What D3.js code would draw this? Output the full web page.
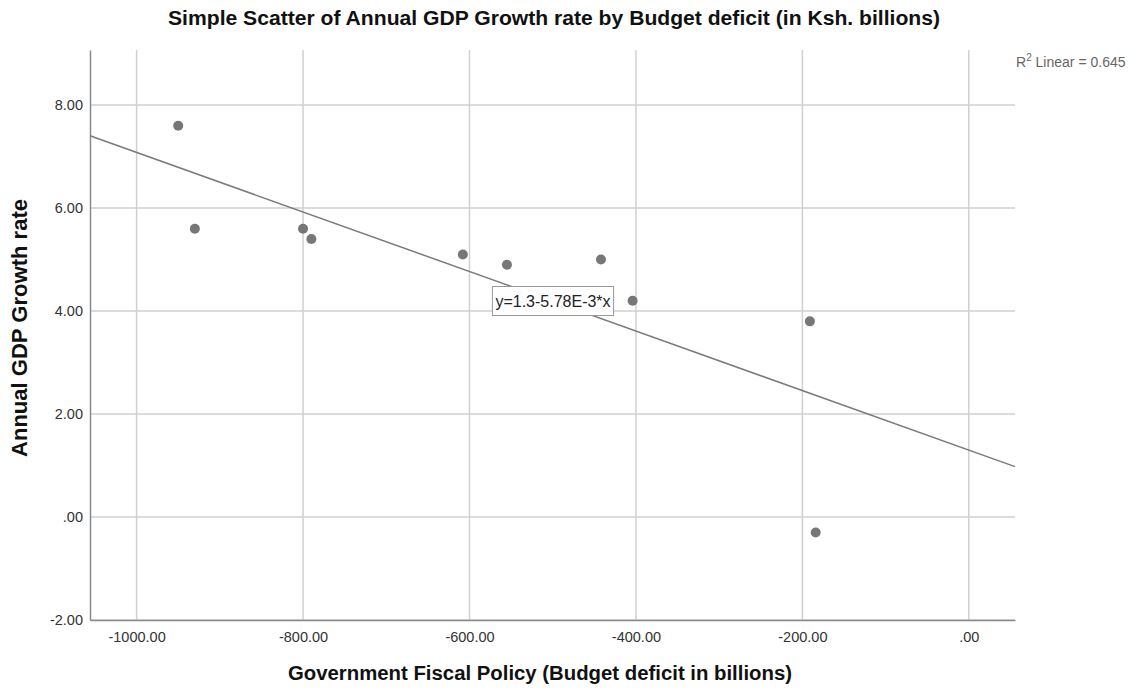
<!DOCTYPE html>
<html>
<head>
<meta charset="utf-8">
<script src="https://cdn.jsdelivr.net/npm/d3@7"></script>
<style>
  body { margin: 0; background: #fff; }
  text { font-family: "Liberation Sans", Arial, sans-serif; }
</style>
</head>
<body>
<div id="chart"></div>
<script>
// data
var budgetDeficit = [-950, -930, -800, -790, -608, -555, -442, -404, -191, -184];
var gdpGrowth     = [7.6, 5.6, 5.6, 5.4, 5.1, 4.9, 5.0, 4.2, 3.8, -0.3];
var xTicks = [-1000, -800, -600, -400, -200, 0];
var yTicks = [-2, 0, 2, 4, 6, 8];
var fitIntercept = 1.3, fitSlope = -5.78e-3;
var rSquared = 0.645;

var margin = {top: 50, right: 128, bottom: 76, left: 90},
    width = 1143 - margin.left - margin.right,
    height = 696 - margin.top - margin.bottom;

var svg = d3.select("#chart")
  .append("svg")
    .attr("width", 1143)
    .attr("height", 696)
  .append("g")
    .attr("transform", "translate(" + margin.left + "," + margin.top + ")");

var x = d3.scaleLinear().domain([-1056, 55.5]).range([0, width]);
var y = d3.scaleLinear().domain([-2, 9.07]).range([height, 0]);

// SPSS style: no leading zero
function fmt(v) {
  var s = d3.format(".2f")(v).replace("−", "-");
  return s.replace(/^0\./, ".").replace(/^-0\./, "-.");
}

// gridlines
svg.append("g").selectAll("line.gx")
  .data(xTicks).enter().append("line")
    .attr("x1", d => x(d)).attr("x2", d => x(d))
    .attr("y1", 0).attr("y2", height)
    .attr("stroke", "#d0d0d0").attr("stroke-width", 1.5);
svg.append("g").selectAll("line.gy")
  .data(yTicks).enter().append("line")
    .attr("x1", 0).attr("x2", width)
    .attr("y1", d => y(d)).attr("y2", d => y(d))
    .attr("stroke", "#d0d0d0").attr("stroke-width", 1.5);

// axes
var xAxis = svg.append("g")
  .attr("transform", "translate(0," + height + ")")
  .call(d3.axisBottom(x).tickValues(xTicks).tickSize(0).tickPadding(12).tickFormat(fmt));
var yAxis = svg.append("g")
  .call(d3.axisLeft(y).tickValues(yTicks).tickSize(0).tickPadding(7).tickFormat(fmt));
[xAxis, yAxis].forEach(a => {
  a.select(".domain").attr("stroke", "#8a8a8a").attr("stroke-width", 1.5);
  a.selectAll("text").style("font-family", "Liberation Sans, Arial, sans-serif")
    .style("font-size", "14.5px").attr("fill", "#333");
});

// fit line
var xd = x.domain();
svg.append("line")
  .attr("x1", x(xd[0])).attr("y1", y(fitIntercept + fitSlope * xd[0]))
  .attr("x2", x(xd[1])).attr("y2", y(fitIntercept + fitSlope * xd[1]))
  .attr("stroke", "#7a7a7a").attr("stroke-width", 1.5);

// points
svg.append("g").selectAll("circle")
  .data(budgetDeficit.map((d, i) => [d, gdpGrowth[i]]))
  .enter().append("circle")
    .attr("cx", d => x(d[0]))
    .attr("cy", d => y(d[1]))
    .attr("r", 5)
    .attr("fill", "#777");

// equation label
var eq = svg.append("g").attr("transform", "translate(" + (553 - margin.left) + "," + (301 - margin.top) + ")");
var eqText = eq.append("text")
  .attr("text-anchor", "middle").attr("dy", "0.35em")
  .style("font-size", "16px").attr("fill", "#222")
  .text("y=1.3-5.78E-3*x");
var bb = eqText.node().getBBox();
eq.insert("rect", "text")
  .attr("x", bb.x - 3).attr("y", -14.5)
  .attr("width", bb.width + 6).attr("height", 29)
  .attr("fill", "#fff").attr("stroke", "#999");

// R squared note
var r2 = svg.append("text")
  .attr("x", width + 1).attr("y", 67 - margin.top)
  .style("font-size", "14px").attr("fill", "#666");
r2.append("tspan").text("R");
r2.append("tspan").attr("dy", -6).style("font-size", "10px").text("2");
r2.append("tspan").attr("dy", 6).text(" Linear = " + rSquared);

// title and axis titles
var root = d3.select("svg");
root.append("text")
  .attr("x", 554).attr("y", 25)
  .attr("text-anchor", "middle")
  .attr("textLength", 772).attr("lengthAdjust", "spacingAndGlyphs")
  .style("font-size", "20px").style("font-weight", "bold").attr("fill", "#111")
  .text("Simple Scatter of Annual GDP Growth rate by Budget deficit (in Ksh. billions)");
root.append("text")
  .attr("transform", "translate(27," + 328 + ") rotate(-90)")
  .attr("text-anchor", "middle")
  .attr("textLength", 258).attr("lengthAdjust", "spacingAndGlyphs")
  .style("font-size", "21.5px").style("font-weight", "bold").attr("fill", "#111")
  .text("Annual GDP Growth rate");
root.append("text")
  .attr("x", 540).attr("y", 680)
  .attr("text-anchor", "middle")
  .attr("textLength", 504).attr("lengthAdjust", "spacingAndGlyphs")
  .style("font-size", "20px").style("font-weight", "bold").attr("fill", "#111")
  .text("Government Fiscal Policy (Budget deficit in billions)");
</script>
</body>
</html>
